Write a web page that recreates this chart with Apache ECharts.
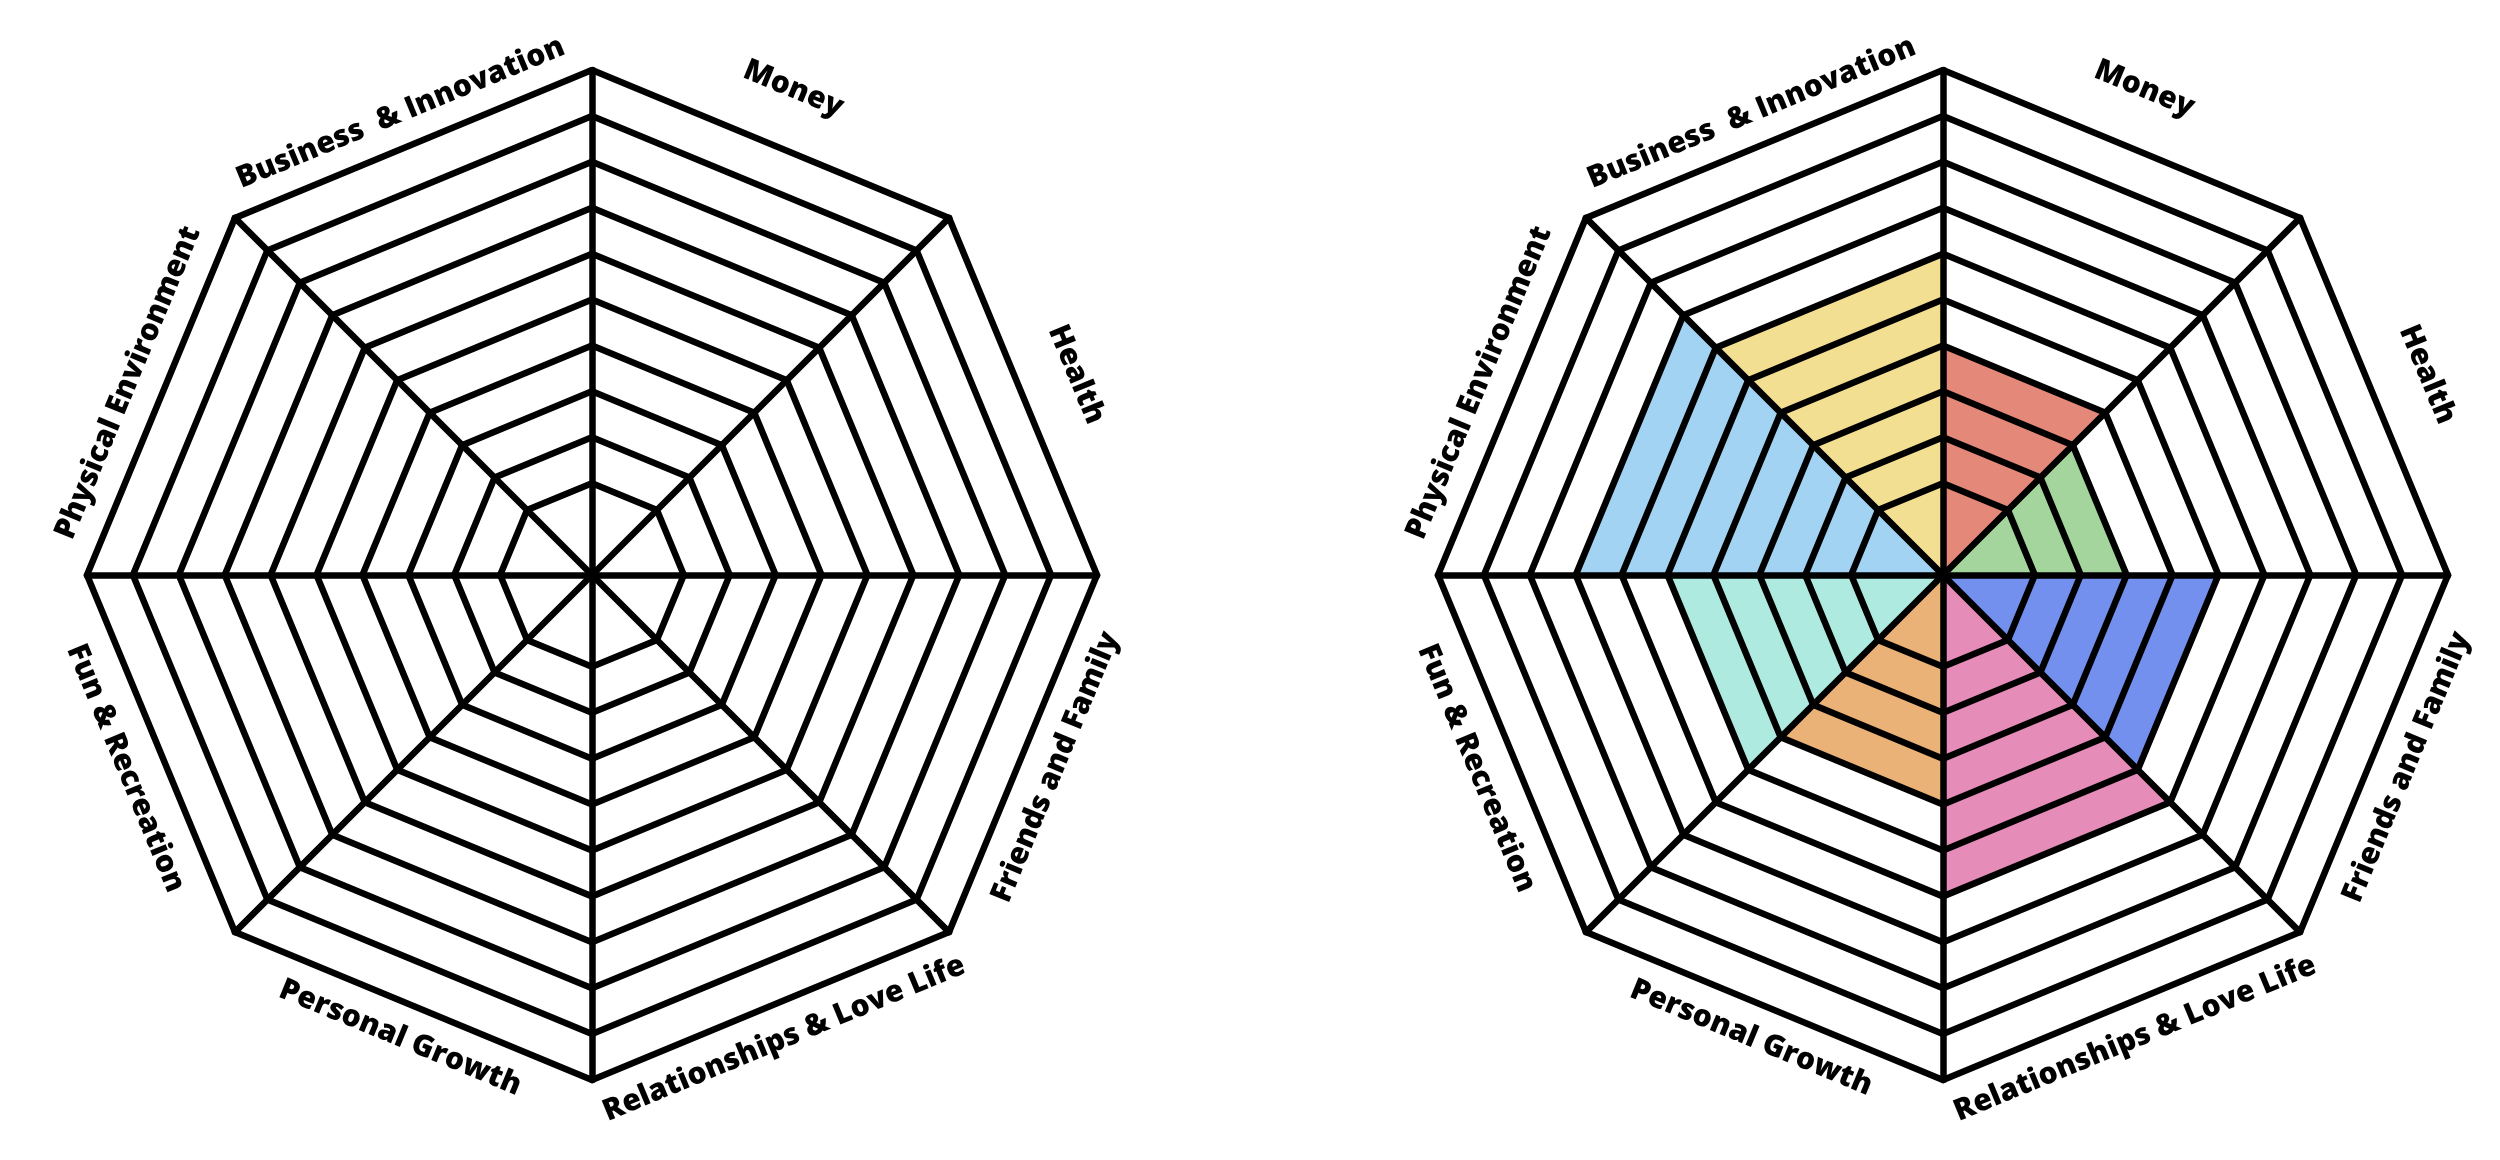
<!DOCTYPE html>
<html>
<head>
<meta charset="UTF-8">
<title>Wheel of Life</title>
<script type="text/javascript" src="https://cdn.jsdelivr.net/npm/echarts@6/dist/echarts.min.js"></script>
<style>
  html, body { margin: 0; padding: 0; background: #fff; }
</style>
</head>
<body>
<div id="main" style="width: 2500px;height:1160px;"></div>
<script type="text/javascript">
	// areas, clockwise from the top spoke
	var categories = ['Money', 'Health', 'Friends and Family', 'Relationships & Love Life',
		'Personal Growth', 'Fun & Recreation', 'Physical Environment', 'Business  & Innovation'];
	var scores = [5, 4, 6, 7, 5, 6, 8, 7]; // right wheel, out of 11
	var colors = ['#e4897a', '#a4d59c', '#7390ef', '#e58cb8', '#eab276', '#aeeadf', '#a2d3f3', '#f3df92'];
	var maxLevel = 11;

	// layout
	var centers = [[592, 575], [1943, 575]];
	var R = 505;
	var labelDist = [526, 524, 502, 502, 501, 505, 502, 500];

	var myChart = echarts.init(document.getElementById('main'));

	// ring 1 is not drawn in the original
	var ringColors = [];
	for (var i = 0; i <= maxLevel; i++) {
		ringColors.push(i === 1 ? 'rgba(0,0,0,0)' : '#000');
	}

	function makeRadar(center) {
		var ind = [];
		for (var i = 0; i < 8; i++) ind.push({ name: '', min: 0, max: maxLevel });
		return {
			center: center,
			radius: R,
			startAngle: 90,
			splitNumber: maxLevel,
			shape: 'polygon',
			indicator: ind,
			axisName: { show: false },
			axisLine: { lineStyle: { color: '#000', width: 6.5 } },
			splitLine: { lineStyle: { color: ringColors, width: 6.5 } },
			splitArea: { show: false },
			axisTick: { show: false },
			axisLabel: { show: false },
			z: 5
		};
	}

	// radar spokes go counter-clockwise from the top; sector k lies between
	// spoke (8-k)%8 and (7-k)%8
	var wedges = [];
	for (var k = 0; k < categories.length; k++) {
		var vals = [0, 0, 0, 0, 0, 0, 0, 0];
		vals[(8 - k) % 8] = scores[k];
		vals[(7 - k + 8) % 8] = scores[k];
		wedges.push({
			name: categories[k],
			value: vals,
			areaStyle: { color: colors[k], opacity: 1 },
			lineStyle: { width: 0, color: colors[k] },
			itemStyle: { color: colors[k] }
		});
	}

	// rotated labels along each octagon edge
	var labels = [];
	centers.forEach(function (c) {
		for (var k = 0; k < categories.length; k++) {
			var a = 67.5 - 45 * k;
			var rad = a * Math.PI / 180;
			var rot = Math.sin(rad) > 0 ? a - 90 : a + 90;
			labels.push({
				type: 'text',
				x: c[0] + labelDist[k] * Math.cos(rad),
				y: c[1] - labelDist[k] * Math.sin(rad),
				rotation: rot * Math.PI / 180,
				style: {
					text: categories[k],
					fill: '#000',
					fontSize: 30,
					fontWeight: 800,
					fontFamily: 'Open Sans',
					align: 'center',
					verticalAlign: 'middle'
				},
				z: 10
			});
		}
	});

	myChart.setOption({
		animation: false,
		backgroundColor: '#fff',
		radar: [makeRadar(centers[0]), makeRadar(centers[1])],
		series: [{
			type: 'radar',
			radarIndex: 1,
			symbol: 'none',
			silent: true,
			data: wedges
		}],
		graphic: labels
	});
</script>
</body>
</html>
